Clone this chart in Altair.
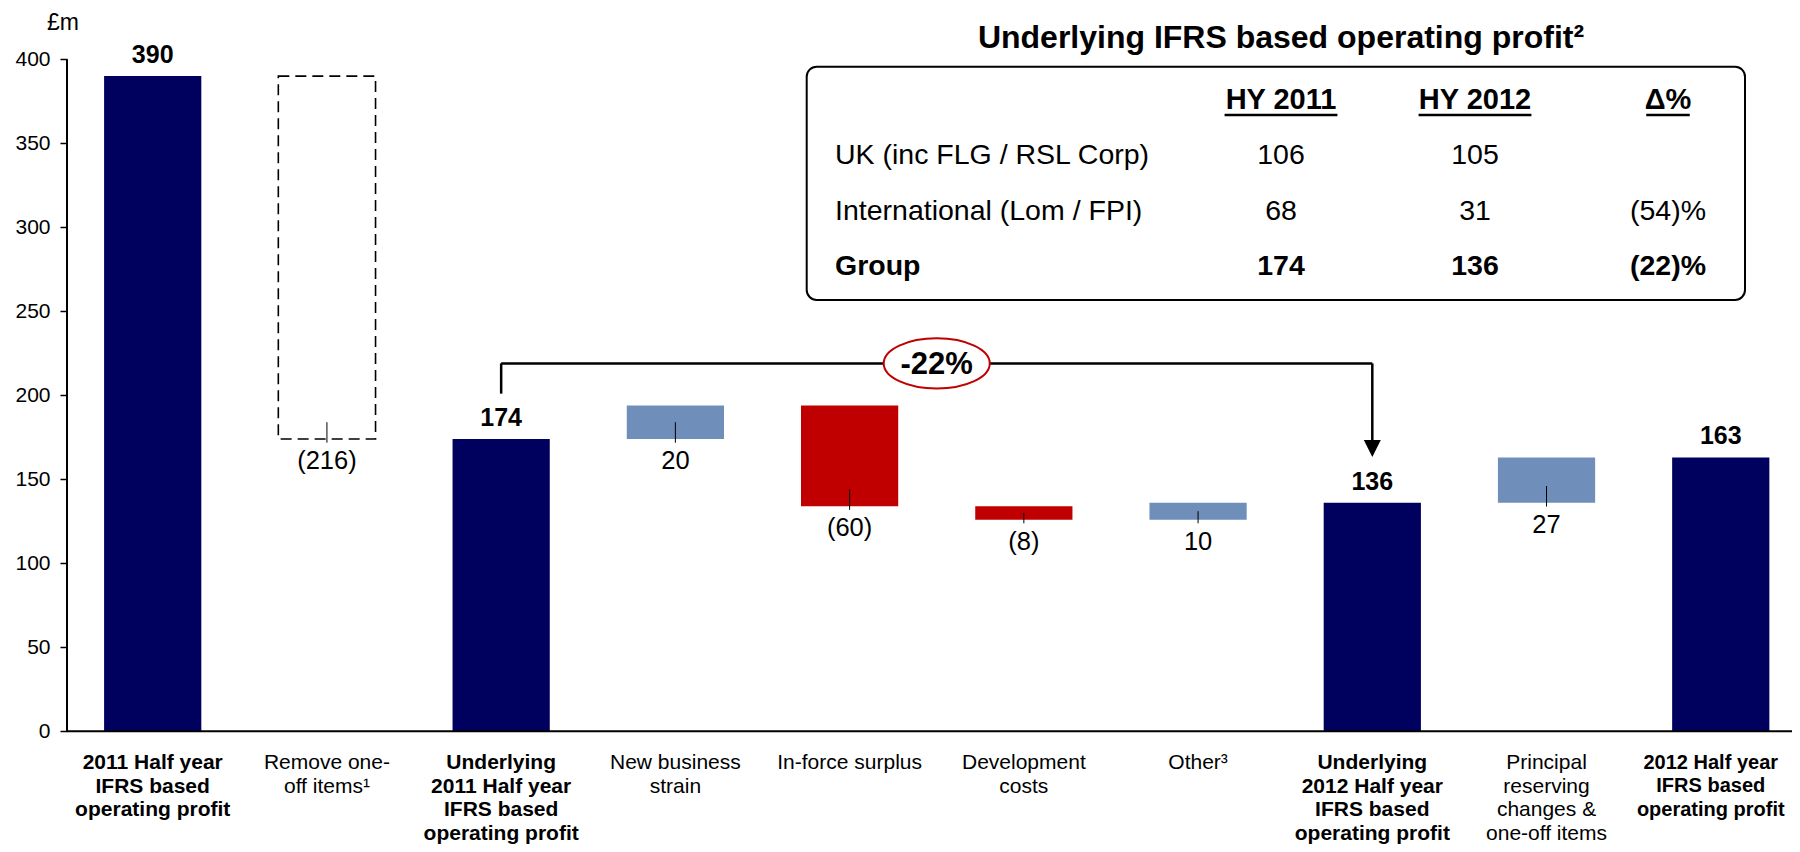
import altair as alt
import pandas as pd

# ---------------- data ----------------
categories = [
    "2011 Half year\nIFRS based\noperating profit",
    "Remove one-\noff items¹",
    "Underlying\n2011 Half year\nIFRS based\noperating profit",
    "New business\nstrain",
    "In-force surplus",
    "Development\ncosts",
    "Other³",
    "Underlying\n2012 Half year\nIFRS based\noperating profit",
    "Principal\nreserving\nchanges &\none-off items",
    "2012 Half year\nIFRS based\noperating profit",
]
kinds = ["total", "remove", "total", "up", "down", "down", "up", "total", "up", "total"]
values = [390, -216, 174, 20, -60, -8, 10, 136, 27, 163]
y_ticks = [0, 50, 100, 150, 200, 250, 300, 350, 400]
unit_label = "£m"
change_label = "-22%"

table_title = "Underlying IFRS based operating profit²"
table_headers = ["HY 2011", "HY 2012", "Δ%"]
table_rows = ["UK (inc FLG / RSL Corp)", "International (Lom / FPI)", "Group"]
hy2011 = ["106", "68", "174"]
hy2012 = ["105", "31", "136"]
delta_pct = ["", "(54)%", "(22)%"]

# ---------------- layout / style ----------------
FONT = "Liberation Sans"
NAVY, BLUE, RED = "#00005F", "#6F8EBA", "#C00000"
W, H = 1725, 836
PAD_LEFT = 59
X_DOMAIN = [-0.4919, 9.4089]
Y_DOMAIN = [-67.08, 430.54]
BAR_HALF = 0.279
BRACKET_Y, LEFT_LEG_END, RIGHT_LEG_END, ARROW_Y = 219.0, 201.0, 172.5, 168.3

# ---------------- derived table ----------------
recs = []
running = 0
last = len(categories) - 1
for i, (c, k, v) in enumerate(zip(categories, kinds, values)):
    if k == "total":
        lo, hi = 0, v
        running = v
    else:
        a, b = running, running + v
        lo, hi = min(a, b), max(a, b)
        running += v
    recs.append(dict(i=i, cat=c, kind=k, v=v, lo=lo, hi=hi,
                     xl=i - BAR_HALF, xr=i + BAR_HALF,
                     tick_top=lo + min(abs(v) / 2, 10), tick_bot=lo - 2.2,
                     label=(str(v) if k == "total" else (f"({abs(v)})" if v < 0 else str(v))),
                     bold=(k == "total"), edge=(i == last)))
df = pd.DataFrame(recs)

xs = alt.Scale(domain=X_DOMAIN, nice=False, zero=False)
ys = alt.Scale(domain=Y_DOMAIN, nice=False, zero=False)
Y_AXIS = alt.Axis(values=y_ticks, domain=False, grid=False, title=None,
                  tickSize=7, tickWidth=1.5, tickColor="black",
                  labelFontSize=21, labelColor="black", labelPadding=10,
                  labelFont=FONT, labelFlush=False, labelOverlap=False)


def X(f):
    return alt.X(f, type="quantitative", scale=xs, axis=None)


def Y(f):
    return alt.Y(f, type="quantitative", scale=ys, axis=Y_AXIS)


def YD(v):
    return alt.datum(v, scale=ys, axis=Y_AXIS)


base = alt.Chart(df)

bars = base.transform_filter("datum.kind != 'remove'").mark_bar().encode(
    x=X("xl"), x2="xr", y=Y("lo"), y2="hi",
    color=alt.Color("kind:N", scale=alt.Scale(domain=["total", "up", "down"],
                                              range=[NAVY, BLUE, RED]), legend=None),
)

dashed = base.transform_filter("datum.kind == 'remove'").mark_rect(
    fillOpacity=0, stroke="black", strokeWidth=1.6, strokeDash=[11, 6]
).encode(x=X("xl"), x2="xr", y=Y("lo"), y2="hi")

leaders = base.transform_filter("datum.kind != 'total'").mark_rule(
    color="black", strokeWidth=1
).encode(x=X("i"), y=Y("tick_bot"), y2="tick_top")

x_axis_line = alt.Chart(df.head(1)).mark_rule(color="black", strokeWidth=2).encode(
    y=YD(0))
y_axis_line = alt.Chart(df.head(1)).mark_rule(color="black", strokeWidth=2).encode(
    x=alt.value(0), y=YD(0), y2=alt.datum(400))

# bracket between the two underlying totals
und = [r["i"] for r in recs if r["cat"].startswith("Underlying")]
br = pd.DataFrame([
    dict(x1=und[0], x2=und[1], y1=BRACKET_Y, y2=BRACKET_Y),
    dict(x1=und[0], x2=und[0], y1=BRACKET_Y, y2=LEFT_LEG_END),
    dict(x1=und[1], x2=und[1], y1=BRACKET_Y, y2=RIGHT_LEG_END),
])
bracket = alt.Chart(br).mark_rule(color="black", strokeWidth=2.5).encode(
    x=X("x1"), x2="x2", y=Y("y1"), y2="y2")
arrow = alt.Chart(pd.DataFrame([dict(x=und[1], y=ARROW_Y)])).mark_point(
    shape="M -1 -1 L 1 -1 L 0 1 Z", size=289, filled=True, color="black", opacity=1
).encode(x=X("x"), y=Y("y"))

ell_df = pd.DataFrame([dict(x=(und[0] + und[1]) / 2, y=BRACKET_Y, t=change_label)])
ellipse = alt.Chart(ell_df).mark_point(
    shape="M -1 0 A 1 0.473 0 1 1 1 0 A 1 0.473 0 1 1 -1 0 Z",
    size=106 ** 2, filled=True, fill="white", stroke=RED, strokeWidth=2,
    fillOpacity=1, strokeOpacity=1
).encode(x=X("x"), y=Y("y"))
ell_text = alt.Chart(ell_df).mark_text(
    font=FONT, fontSize=31, fontWeight="bold", color="black", baseline="middle", dy=1.8
).encode(x=X("x"), y=Y("y"), text="t:N")

total_labels = base.transform_filter("datum.kind == 'total'").mark_text(
    font=FONT, fontSize=25, fontWeight="bold", color="black", baseline="middle", dy=-21
).encode(x=X("i"), y=Y("hi"), text="label:N")
delta_labels = base.transform_filter("datum.kind != 'total'").mark_text(
    font=FONT, fontSize=25.5, color="black", baseline="middle", dy=22
).encode(x=X("i"), y=Y("lo"), text="label:N")

cat_bold = base.transform_filter("datum.bold && !datum.edge").mark_text(
    font=FONT, fontSize=21, fontWeight="bold", color="black", baseline="top",
    lineBreak="\n", lineHeight=23.7, dy=20.6
).encode(x=X("i"), y=YD(0), text="cat:N")
cat_edge = base.transform_filter("datum.edge").mark_text(
    font=FONT, fontSize=20, fontWeight="bold", color="black", baseline="top",
    lineBreak="\n", lineHeight=23.7, dy=21.2, dx=-10
).encode(x=X("i"), y=YD(0), text="cat:N")
cat_norm = base.transform_filter("!datum.bold").mark_text(
    font=FONT, fontSize=21, color="black", baseline="top",
    lineBreak="\n", lineHeight=23.7, dy=20.6
).encode(x=X("i"), y=YD(0), text="cat:N")

one = pd.DataFrame([dict(a=1)])


def txt(x, y, t, size, bold=False, align="center"):
    kw = dict(font=FONT, fontSize=size, color="black", baseline="middle", align=align)
    if bold:
        kw["fontWeight"] = "bold"
    return alt.Chart(one).mark_text(**kw).encode(
        x=alt.value(x), y=alt.value(y), text=alt.value(t))


unit = txt(-4, 15, unit_label, 23)

# table box
box = alt.Chart(one).mark_rect(cornerRadius=10, fill="white", stroke="black",
                               strokeWidth=2).encode(
    x=alt.value(739.7), x2=alt.value(1678), y=alt.value(58.7), y2=alt.value(292))
table_layers = [box, txt(1214, 30, table_title, 32, bold=True)]
col_x = [1214, 1408, 1601]
bold_w = {"H": .722, "Y": .667, " ": .278, "Δ": .612, "%": .889}
for cx, h in zip(col_x, table_headers):
    table_layers.append(txt(cx, 92, h, 29, bold=True))
    w = sum(bold_w.get(ch, .556) for ch in h) * 29
    table_layers.append(alt.Chart(one).mark_rule(color="black", strokeWidth=2.5).encode(
        x=alt.value(cx - w / 2), x2=alt.value(cx + w / 2), y=alt.value(107)))
row_y = [147, 203, 258]
for k, (ry, name, a, b, d) in enumerate(zip(row_y, table_rows, hy2011, hy2012, delta_pct)):
    bold = name == "Group"
    table_layers.append(txt(768, ry, name, 28.5, bold=bold, align="left"))
    table_layers.append(txt(col_x[0], ry, a, 28.5, bold=bold))
    table_layers.append(txt(col_x[1], ry, b, 28.5, bold=bold))
    if d:
        table_layers.append(txt(col_x[2], ry, d, 28.5, bold=bold))

chart = alt.layer(
    bars, dashed, leaders, x_axis_line, y_axis_line, bracket, arrow, ellipse, ell_text,
    total_labels, delta_labels, cat_bold, cat_edge, cat_norm, unit, *table_layers
).properties(
    width=W, height=H,
    autosize=alt.AutoSizeParams(type="none"),
    padding={"left": PAD_LEFT, "top": 0, "right": 0, "bottom": 0},
).configure(font=FONT).configure_view(stroke=None)

chart.save("out.html", embed_options={"renderer": "svg", "actions": False})
